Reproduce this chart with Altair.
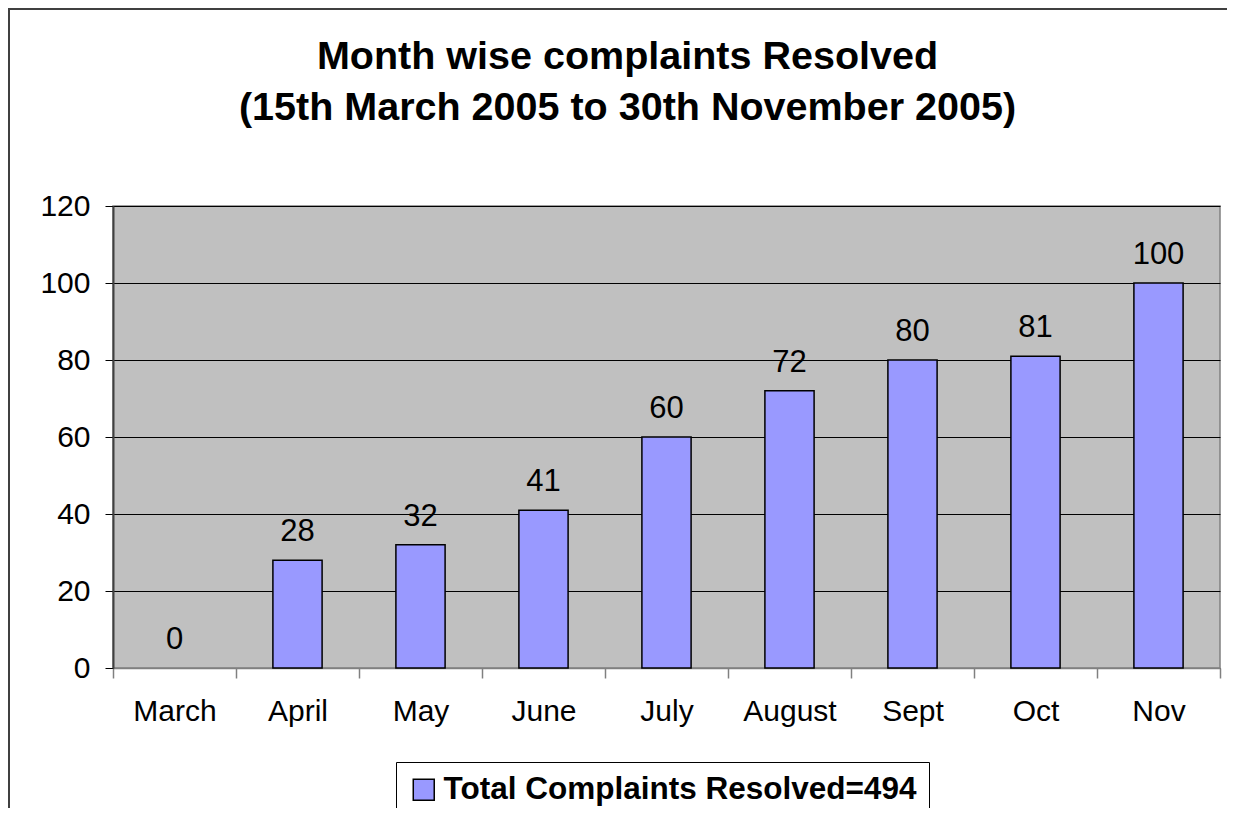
import altair as alt
import pandas as pd

months = ["March", "April", "May", "June", "July", "August", "Sept", "Oct", "Nov"]
resolved = [0, 28, 32, 41, 60, 72, 80, 81, 100]
series_name = "Total Complaints Resolved=494"
y_ticks = [0, 20, 40, 60, 80, 100, 120]
title_lines = ["Month wise complaints Resolved", "(15th March 2005 to 30th November 2005)"]

df = pd.DataFrame({"month": months, "resolved": resolved, "series": [series_name] * len(months)})

FONT = "Liberation Sans"

x = alt.X(
    "month:N", sort=months, title=None,
    scale=alt.Scale(paddingInner=0, paddingOuter=0),
    axis=alt.Axis(labelAngle=0, labelFontSize=30, labelFont=FONT, labelColor="black",
                  labelPadding=18, tickSize=10, tickColor="#808080", tickWidth=1.5,
                  domainColor="#808080", domainWidth=1.5, tickBand="extent", grid=False),
)
y = alt.Y(
    "resolved:Q", title=None,
    scale=alt.Scale(domain=[0, 120], nice=False),
    axis=alt.Axis(values=y_ticks, labelFontSize=30, labelFont=FONT, labelColor="black",
                  labelPadding=15, tickSize=8, tickColor="black", tickWidth=1,
                  domainColor="#404040", domainWidth=2, grid=True, gridColor="black",
                  gridWidth=1, gridOpacity=1),
)

bars = alt.Chart(df).mark_bar(stroke="black", strokeWidth=1.5,
                              width=alt.RelativeBandSize(0.4)).encode(
    x=x, y=y,
    strokeOpacity=alt.condition(alt.datum.resolved > 0, alt.value(1), alt.value(0)),
    color=alt.Color(
        "series:N", scale=alt.Scale(range=["#9999FF"]),
        legend=alt.Legend(
            title=None, orient="none", legendX=283, legendY=556,
            labelFont=FONT, labelFontSize=31.5, labelFontWeight="bold", labelColor="black",
            symbolType="square", symbolSize=440, symbolStrokeColor="black",
            symbolStrokeWidth=1.5, symbolOpacity=1, strokeColor="black", padding=12,
            labelLimit=800, fillColor="white",
        ),
    ),
)

labels = alt.Chart(df).mark_text(dy=-19, baseline="alphabetic", fontSize=31, font=FONT,
                                 color="black").encode(
    x=alt.X("month:N", sort=months), y=alt.Y("resolved:Q"), text="resolved:Q"
)

frame = alt.Chart(pd.DataFrame({"a": [0]})).mark_rect(
    filled=False, stroke="#404040", strokeWidth=2, clip=False
).encode(x=alt.value(-104), x2=alt.value(1300), y=alt.value(-197), y2=alt.value(800))

chart = alt.layer(bars, labels, frame).properties(
    width=1107, height=462,
    background="white",
    title=alt.TitleParams(title_lines, fontSize=39.5, font=FONT, fontWeight="bold",
                          anchor="middle", frame="group", dx=-39, offset=-120,
                          lineHeight=51, color="black"),
    autosize=alt.AutoSizeParams(type="none"),
    padding={"left": 105, "top": 198, "right": 7, "bottom": 140},
).configure_view(
    fill="#C0C0C0", stroke="#808080", strokeWidth=1.5
)

chart.save("out.html", embed_options={"renderer": "svg", "actions": False})
